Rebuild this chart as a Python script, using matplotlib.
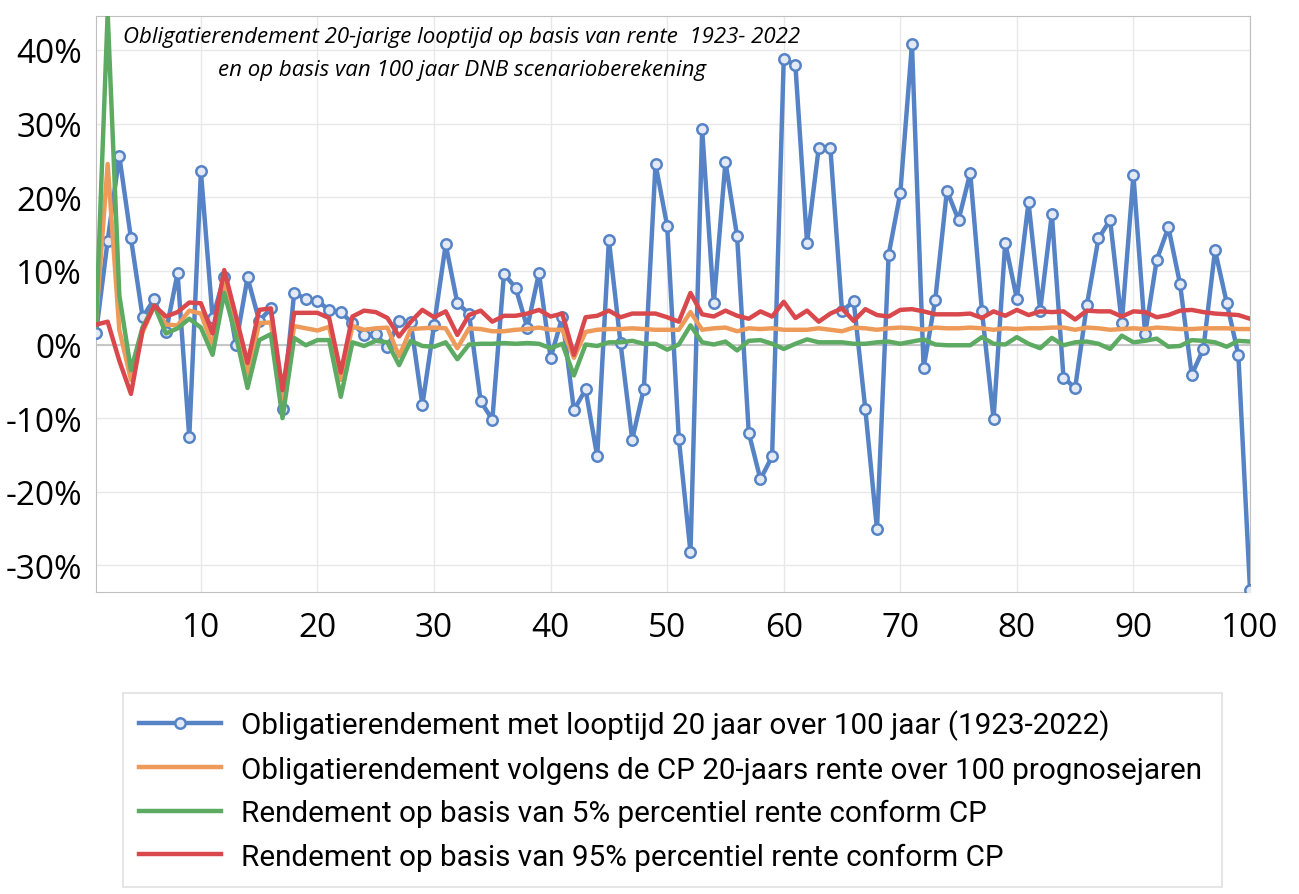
import numpy as np
import matplotlib
matplotlib.use("Agg")
import matplotlib.pyplot as plt
from matplotlib.ticker import FuncFormatter

# jaar 1..100
jaren = np.arange(1, 101)

# obligatierendement 20 jaar looptijd (1923-2022), in %
hist = [1.5, 14.1, 25.6, 14.4, 3.7, 6.2, 1.7, 9.7, -12.6, 23.5,
        3.6, 9.2, 0.0, 9.1, 3.2, 4.9, -8.8, 7.0, 6.2, 5.9,
        4.7, 4.4, 2.9, 1.3, 1.4, -0.4, 3.2, 3.0, -8.2, 2.6,
        13.6, 5.6, 4.2, -7.7, -10.2, 9.6, 7.7, 2.3, 9.7, -1.8,
        3.7, -8.9, -6.1, -15.2, 14.2, 0.15, -12.9, -6.0, 24.5, 16.1,
        -12.8, -28.2, 29.2, 5.6, 24.8, 14.7, -12.0, -18.3, -15.2, 38.8,
        37.9, 13.8, 26.7, 26.7, 4.5, 5.9, -8.8, -25.1, 12.2, 20.6,
        40.8, -3.2, 6.1, 20.9, 16.9, 23.3, 4.6, -10.1, 13.8, 6.2,
        19.3, 4.6, 17.7, -4.5, -5.9, 5.3, 14.4, 16.9, 2.9, 23.0,
        1.4, 11.5, 15.9, 8.2, -4.1, -0.6, 12.8, 5.7, -1.4, -33.3]

# CP 20-jaars rente
cp = [3.0, 24.5, 2.0, -4.8, 1.7, 5.3, 2.7, 2.6, 4.6, 4.2,
      -0.1, 8.5, 2.9, -4.2, 2.9, 3.0, -7.8, 2.5, 2.2, 1.9,
      2.4, -4.8, 2.5, 2.0, 2.2, 2.3, -1.6, 2.1, 2.2, 2.3,
      2.2, -0.5, 2.2, 2.1, 1.8, 1.8, 2.0, 2.1, 2.3, 2.0,
      2.0, -1.8, 1.7, 2.0, 2.1, 2.1, 2.2, 2.1, 2.0, 2.0,
      2.0, 4.4, 2.0, 2.2, 2.3, 1.8, 2.2, 2.1, 2.2, 2.0,
      2.0, 2.0, 2.2, 2.0, 1.8, 2.3, 2.2, 2.0, 2.2, 2.3,
      2.2, 2.0, 2.3, 2.2, 2.2, 2.3, 2.2, 2.0, 2.2, 2.1,
      2.2, 2.2, 2.3, 2.3, 2.0, 2.3, 2.2, 2.0, 2.1, 2.2,
      2.1, 2.3, 2.2, 2.1, 2.1, 2.2, 2.2, 2.2, 2.1, 2.1]

# 5% percentiel
p5 = [2.5, 45.0, 6.7, -3.5, 2.4, 5.3, 1.5, 2.2, 3.5, 2.3,
      -1.4, 7.0, 1.2, -5.9, 0.6, 1.4, -10.0, 0.9, -0.1, 0.6,
      0.6, -7.1, 0.3, -0.2, 0.5, 0.3, -2.8, 0.5, -0.2, -0.3,
      0.3, -2.0, 0.0, 0.1, 0.1, 0.2, 0.1, 0.2, 0.1, -0.5,
      0.1, -4.2, 0.0, -0.2, 0.3, 0.3, 0.5, 0.1, 0.1, -0.7,
      0.0, 2.6, 0.3, 0.0, 0.4, -0.8, 0.5, 0.6, 0.1, -0.6,
      0.1, 0.7, 0.3, 0.3, 0.3, 0.1, 0.1, 0.3, 0.4, 0.1,
      0.4, 0.7, 0.0, -0.1, -0.1, -0.1, 1.0, 0.1, 0.0, 1.0,
      0.1, -0.5, 0.9, -0.1, 0.3, 0.4, 0.1, -0.6, 1.2, 0.3,
      0.5, 0.8, -0.3, -0.2, 0.6, 0.5, 0.3, -0.3, 0.5, 0.4]

# 95% percentiel
p95 = [2.7, 3.1, -2.2, -6.7, 2.0, 5.3, 3.8, 4.4, 5.7, 5.6,
       1.5, 10.1, 3.9, -2.5, 4.7, 4.9, -6.2, 4.3, 4.3, 4.3,
       3.6, -3.8, 3.8, 4.6, 4.4, 3.6, 1.1, 3.1, 4.7, 3.7,
       4.5, 1.3, 4.0, 4.6, 3.1, 3.9, 3.9, 4.2, 4.7, 3.8,
       4.2, -1.4, 3.7, 3.9, 4.6, 3.7, 4.2, 4.2, 4.2, 3.7,
       3.1, 7.0, 4.1, 3.8, 4.6, 3.9, 3.5, 4.5, 3.8, 5.8,
       3.6, 4.6, 3.1, 4.2, 4.9, 3.2, 4.8, 4.0, 3.8, 4.7,
       4.8, 4.5, 4.1, 4.1, 4.1, 4.2, 3.6, 4.5, 3.9, 4.7,
       4.0, 4.5, 4.4, 4.5, 3.4, 4.6, 4.5, 4.5, 3.8, 4.5,
       4.4, 3.7, 4.0, 4.6, 4.7, 4.4, 4.2, 4.1, 4.0, 3.5]

labels = ["Obligatierendement met looptijd 20 jaar over 100 jaar (1923-2022)",
          "Obligatierendement volgens de CP 20-jaars rente over 100 prognosejaren",
          "Rendement op basis van 5% percentiel rente conform CP",
          "Rendement op basis van 95% percentiel rente conform CP"]

blauw = "#5583C6"
oranje = "#EE9B5A"
groen = "#5DAB62"
rood = "#D9484C"

fig = plt.figure(figsize=(12.99, 8.95), dpi=100)
ax = fig.add_axes([96/1299, 1-593/895, 1154/1299, 576/895])

ax.plot(jaren, hist, color=blauw, lw=3.2, marker="o", ms=7.5, mfc="#E3EAF5",
        mec=blauw, mew=1.8, label=labels[0], zorder=3)
ax.plot(jaren, cp, color=oranje, lw=3.2, label=labels[1], zorder=4)
ax.plot(jaren, p5, color=groen, lw=3.2, label=labels[2], zorder=5)
ax.plot(jaren, p95, color=rood, lw=3.2, label=labels[3], zorder=6)

ax.set_xlim(1, 100)
ax.set_ylim(-33.6, 44.6)
ax.set_xticks(range(10, 101, 10))
ax.set_yticks(range(-30, 41, 10))
ax.yaxis.set_major_formatter(FuncFormatter(lambda v, p: f"{v:.0f}%"))
ax.grid(True, color="#E8E8E8", lw=1)
ax.axhline(0, color="#BFBFBF", lw=1.2, zorder=2)
ax.set_axisbelow(True)
for s in ax.spines.values():
    s.set_color("#BFBFBF")
ax.tick_params(length=0, labelsize=24)
ax.tick_params(axis="y", pad=10)
ax.tick_params(axis="x", pad=14)
for t in ax.get_xticklabels() + ax.get_yticklabels():
    t.set_fontfamily("Open Sans")

ax.text(0.317, 0.982, "Obligatierendement 20-jarige looptijd op basis van rente  1923- 2022\n"
        "en op basis van 100 jaar DNB scenarioberekening",
        transform=ax.transAxes, ha="center", va="top", fontsize=16,
        style="italic", family="Open Sans", linespacing=1.75)

leg = fig.legend(loc="lower left", bbox_to_anchor=(123/1299, 7/895, 1099/1299, 200/895),
                 mode="expand", borderaxespad=0, prop={"family": "Roboto", "size": 21.3},
                 handlelength=2.75, handletextpad=0.7, labelspacing=0.52,
                 borderpad=0.55, fancybox=False, frameon=True)
leg.get_frame().set_edgecolor("#D9D9D9")
leg.get_frame().set_linewidth(1.2)

fig.savefig("out.png", dpi=100)
